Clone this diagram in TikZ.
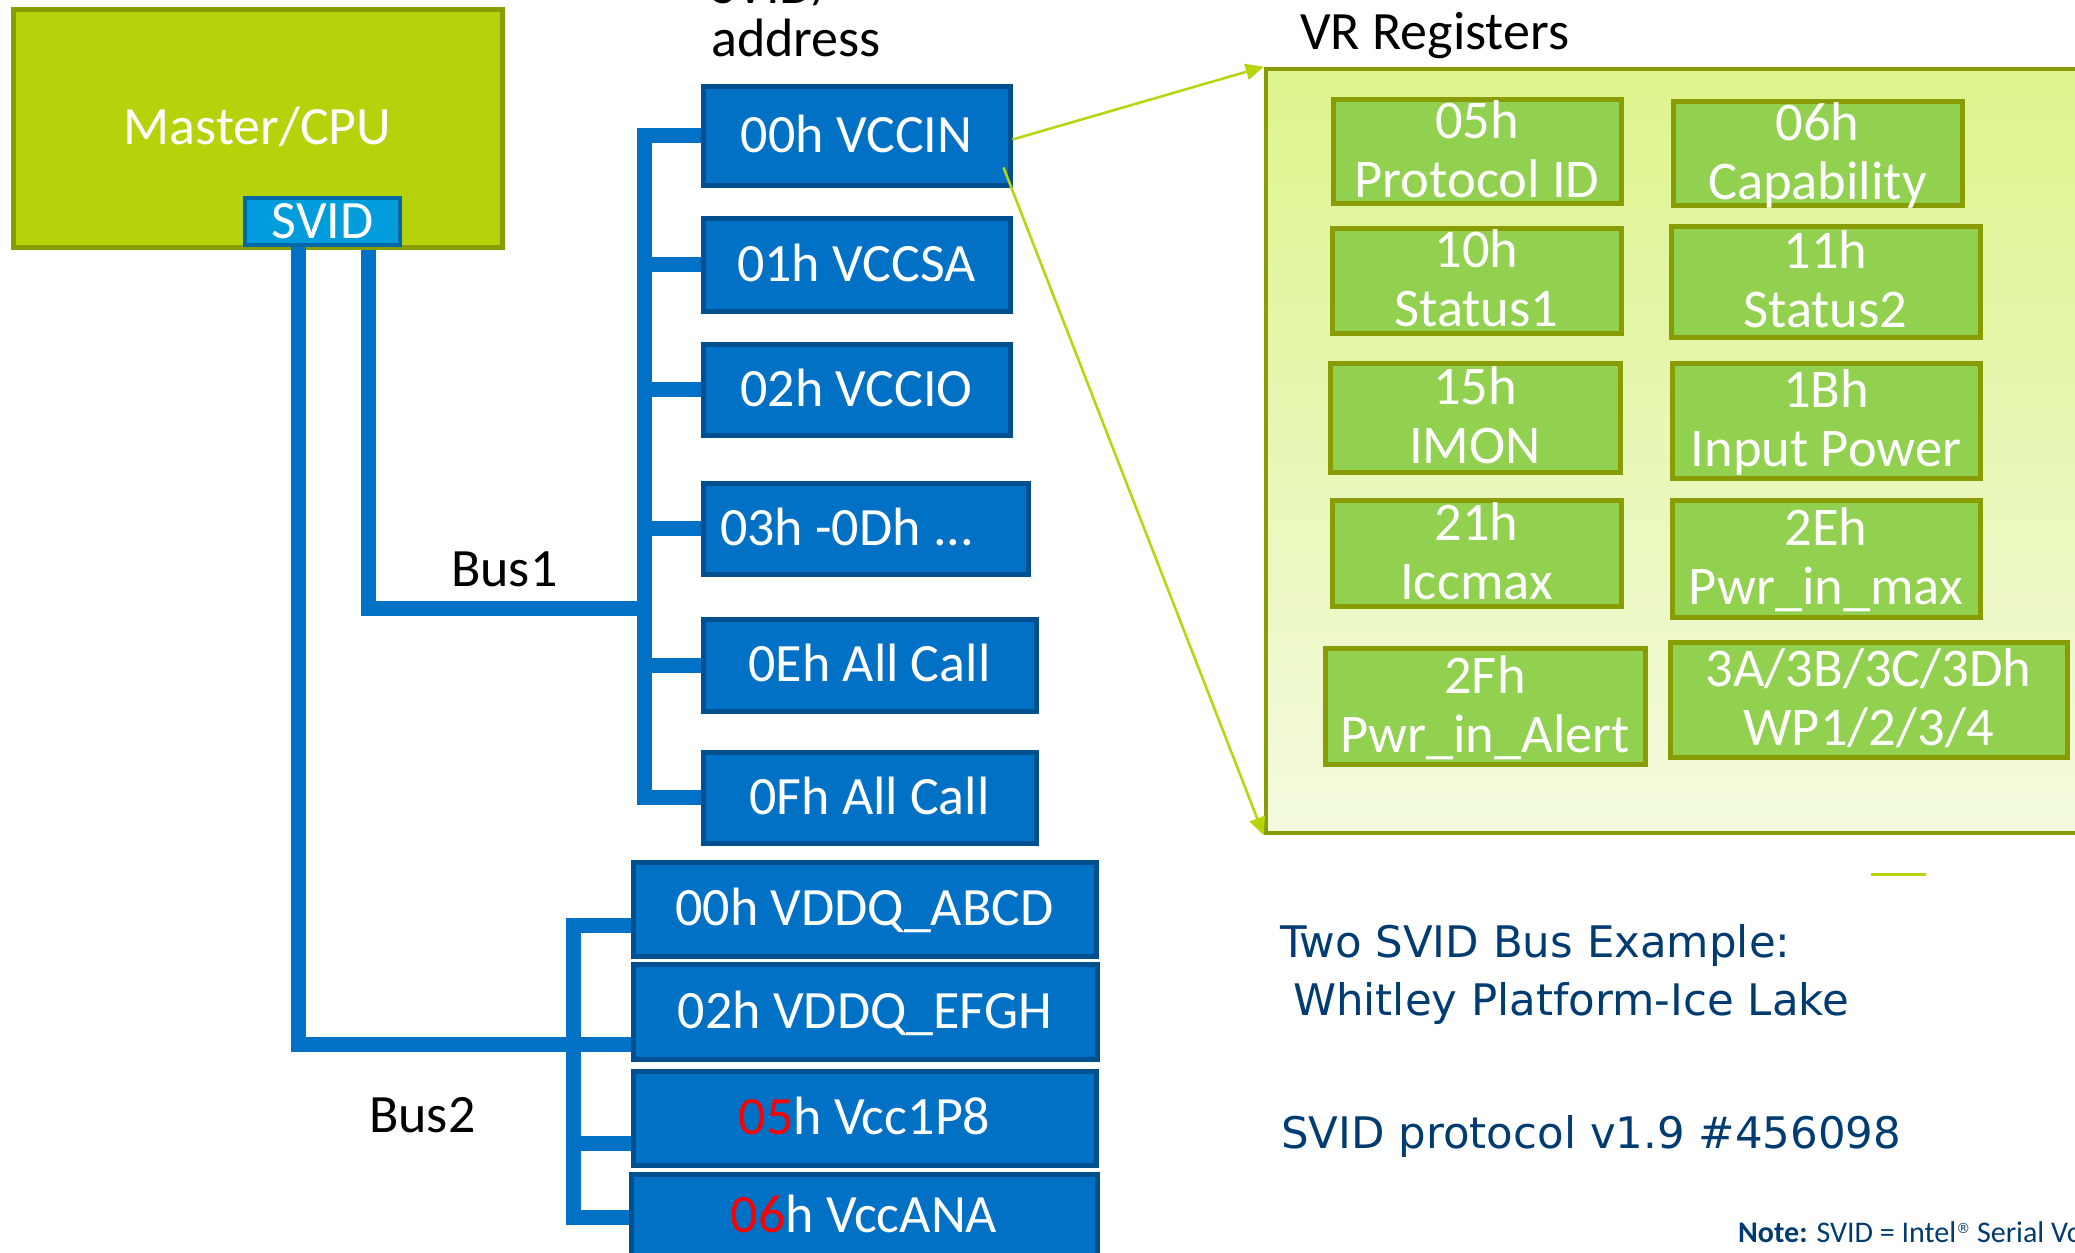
\documentclass[tikz,border=0pt]{standalone}
\usepackage{fontspec}
\setmainfont{Carlito}
\newfontfamily\dvs{DejaVu Sans}
\usetikzlibrary{arrows.meta,fit}
\definecolor{cpugreen}{HTML}{B5D20A}
\definecolor{olivedk}{HTML}{8A9C04}
\definecolor{svidblue}{HTML}{009CDB}
\definecolor{sviddark}{HTML}{0069A6}
\definecolor{intelblue}{HTML}{0071C5}
\definecolor{bluedark}{HTML}{004F8F}
\definecolor{reggreen}{HTML}{92D050}
\definecolor{vrtop}{HTML}{DEF48C}
\definecolor{vrbot}{HTML}{F3FADF}
\definecolor{arrowgreen}{HTML}{B9D40A}
\definecolor{textblue}{HTML}{003C71}
\newcommand\regtxt[2]{\rule{0pt}{47pt}#1\\#2\rule[-14pt]{0pt}{14pt}}
\begin{document}
\begin{tikzpicture}[x=1pt,y=-1pt,
  bus/.style={draw=intelblue,line width=15pt},
  cpubox/.style={draw=olivedk,line width=5pt,fill=cpugreen,inner sep=0pt,text=white,
    font=\fontsize{54}{60}\selectfont,text height=40pt,text depth=7pt},
  svidbox/.style={draw=sviddark,line width=4pt,fill=svidblue,inner sep=0pt,text=white,
    font=\fontsize{54}{60}\selectfont,text height=40pt,text depth=7pt},
  blbox/.style={draw=bluedark,line width=5pt,fill=intelblue,inner sep=0pt,text=white,
    font=\fontsize{54}{60}\selectfont,text height=40pt,text depth=7pt},
  regbox/.style={draw=olivedk,line width=5pt,fill=reggreen,inner sep=0pt},
  regtext/.style={text=white,align=center,inner sep=0pt,font=\fontsize{54.5}{59}\selectfont},
  vrbox/.style={draw=olivedk,line width=4.5pt,top color=vrtop,bottom color=vrbot,inner sep=0pt},
  conn/.style={draw=arrowgreen,line width=2.5pt,-{Triangle[length=18pt,width=16pt]}},
  lbl/.style={inner sep=0pt,anchor=base west,font=\fontsize{54}{60}\selectfont,text=black},
  bluetxt/.style={inner sep=0pt,anchor=base west,font=\dvs\fontsize{43.5}{50}\selectfont,text=textblue},
  notetxt/.style={inner sep=0pt,anchor=base west,font=\fontsize{30}{34}\selectfont,text=textblue}]
\useasboundingbox (0,0) rectangle (2075,1253);
\fill[white] (0,0) rectangle (2075,1253);
\clip (0,0) rectangle (2075,1253);

% master
\node[cpubox,minimum width=489pt,minimum height=238pt] (cpu) at (257.5,128) {Master/CPU};

% bus1 boxes
\node[blbox,minimum width=307pt,minimum height=99pt] (v00) at (856.5,135.5) {00h VCCIN};
\node[blbox,minimum width=307pt,minimum height=93pt] (v01) at (856.5,264.5) {01h VCCSA};
\node[blbox,minimum width=307pt,minimum height=91pt] (v02) at (856.5,389.5) {02h VCCIO};
\node[blbox,minimum width=325pt,minimum height=91pt] (v03) at (865.5,528.5) {03h -0Dh ...\rule{37pt}{0pt}};
\node[blbox,minimum width=333pt,minimum height=92pt] (v0E) at (869.5,665) {0Eh All Call};
\node[blbox,minimum width=333pt,minimum height=91pt] (v0F) at (869.5,797.5) {0Fh All Call};
% bus2 boxes
\node[blbox,minimum width=463pt,minimum height=94pt] (d00) at (864.5,909) {00h VDDQ\_ABCD};
\node[blbox,minimum width=464pt,minimum height=95pt] (d02) at (865,1011.5) {02h VDDQ\_EFGH};
\node[blbox,minimum width=463pt,minimum height=94pt] (d05) at (864.5,1118) {\textcolor{red}{05}h Vcc1P8};
\node[blbox,minimum width=466pt,minimum height=84pt] (d06) at (864,1216) {\textcolor{red}{06}h VccANA};

% bus wiring
\coordinate (b1x) at (644,0);
\coordinate (f1) at (368,250);
\coordinate (b1j) at (644,608);
\coordinate (f2) at (298,245);
\coordinate (b2y) at (0,1044);
\coordinate (b2t) at (573,925);
\coordinate (b2m) at (573,1143);
\coordinate (b2b) at (573,1217);
\draw[bus] (v00.west) -- (v00.west -| b1x) -- (v0F.west -| b1x) -- (v0F.west);
\foreach \n in {v01,v02,v03,v0E} \draw[bus] (\n.west -| b1x) -- (\n.west);
\draw[bus] (f1) |- (b1j);
\draw[bus] (f2) |- (d02.west |- b2y);
\draw[bus] (d00.west |- b2t) -- (b2t) -- (b2b) -- (d06.west |- b2b);
\draw[bus] (b2m) -- (d05.west |- b2m);

\node[svidbox,minimum width=155pt,minimum height=47pt] (svid) at (322.5,221.5) {SVID};

% VR registers
\node[vrbox,fit={(1266,69) (2100,833)}] (vr) {};
\node[regbox,fit={(1333,99) (1621,203)}] (r05) {};
\node[regbox,fit={(1673,101) (1962,205)}] (r06) {};
\node[regbox,fit={(1332,228) (1621,333)}] (r10) {};
\node[regbox,fit={(1671,226) (1980,337)}] (r11) {};
\node[regbox,fit={(1330,363) (1620,472)}] (r15) {};
\node[regbox,fit={(1672,363) (1980,478)}] (r1B) {};
\node[regbox,fit={(1332,500) (1621,606)}] (r21) {};
\node[regbox,fit={(1672,500) (1980,617)}] (r2E) {};
\node[regbox,fit={(1325,648) (1645,764)}] (r2F) {};
\node[regbox,fit={(1670,642) (2067,757)}] (r3A) {};
\node[regtext] (r05t) at (r05.center) {\regtxt{05h}{Protocol ID}};
\node[regtext] (r06t) at (r06.center) {\regtxt{06h}{Capability}};
\node[regtext] (r10t) at (r10.center) {\regtxt{10h}{Status1}};
\node[regtext] (r11t) at (r11.center) {\regtxt{11h}{Status2}};
\node[regtext] (r15t) at (r15.center) {\regtxt{15h}{IMON}};
\node[regtext] (r1Bt) at (r1B.center) {\regtxt{1Bh}{Input Power}};
\node[regtext] (r21t) at (r21.center) {\regtxt{21h}{Iccmax}};
\node[regtext] (r2Et) at (r2E.center) {\regtxt{2Eh}{Pwr\_in\_max}};
\node[regtext] (r2Ft) at (r2F.center) {\regtxt{2Fh}{Pwr\_in\_Alert}};
\node[regtext] (r3At) at (r3A.center) {\regtxt{3A/3B/3C/3Dh}{WP1/2/3/4}};

% zoom arrows
\draw[conn] ([yshift=-4pt]v00.east) -- (vr.north west);
\draw[conn] ([xshift=-9pt,yshift=20pt]v00.south east) -- (vr.south west);

% stray short line
\coordinate (sl1) at (1871,874);
\coordinate (sl2) at (1926,874);
\draw[arrowgreen,line width=3pt] (sl1) -- (sl2);

% labels
\node[lbl] (addr1) at (711,3) {SVID/};
\node[lbl] (addr2) at (711,56) {address};
\node[lbl] (vrl) at (1300,49) {VR Registers};
\node[lbl] (bus1) at (451,586) {Bus1};
\node[lbl] (bus2) at (369,1132) {Bus2};
\node[bluetxt] (ex1) at (1280,957) {Two SVID Bus Example:};
\node[bluetxt] (ex2) at (1293,1015) {Whitley Platform-Ice Lake};
\node[bluetxt] (proto) at (1281,1148) {SVID protocol v1.9 \#456098};
\node[notetxt] (note) at (1738,1242) {{\bfseries Note:} SVID = Intel\raisebox{9pt}{{\dvs\fontsize{14}{14}\selectfont ®}} Serial Voltage Identification};
\end{tikzpicture}
\end{document}
